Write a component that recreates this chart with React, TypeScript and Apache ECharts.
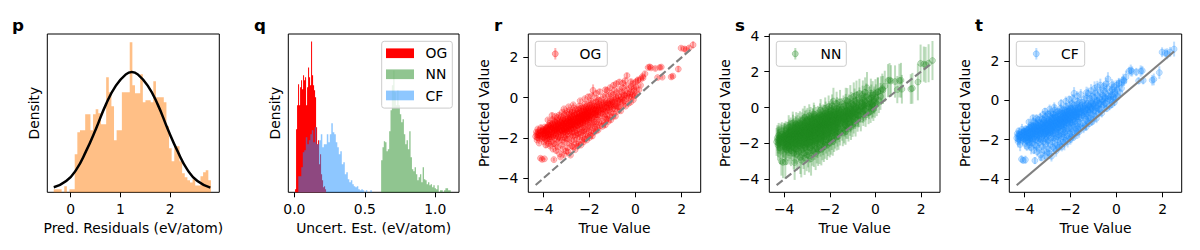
import React, { useEffect, useRef } from "react";
import * as echarts from "echarts";

// ---------- panel p : prediction residual histogram + normal fit ----------
const residualBinStart = -0.34;
const residualBinWidth = 0.0527;
const residualDensity = [
  0.016, 0.016, 0.016, 0, 0.032, 0, 0.016, 0.016, 0.203, 0.321,
  0.332, 0.332, 0.417, 0.417, 0.332, 0.417, 0.444, 0.422, 0.364, 0.364,
  0.615, 0.535, 0.46, 0.278, 0.332, 0.332, 0.535, 0.535, 0.535, 0.802,
  0.572, 0.529, 0.529, 0.631, 0.481, 0.492, 0.492, 0.481, 0.594, 0.508,
  0.508, 0.508, 0.481, 0.353, 0.235, 0.166, 0.246, 0.246, 0.166, 0.102,
  0.08, 0.064, 0.053, 0.07, 0.037, 0.037, 0.086, 0.107, 0.118, 0.064,
];
const normalFit = [
  [-0.34, 0.027], [-0.09, 0.06], [0.11, 0.12], [0.31, 0.22], [0.51, 0.34],
  [0.71, 0.47], [0.91, 0.57], [1.11, 0.63], [1.23, 0.643], [1.35, 0.63],
  [1.55, 0.57], [1.75, 0.47], [1.95, 0.34], [2.15, 0.22], [2.35, 0.12],
  [2.55, 0.06], [2.81, 0.025],
];

// ---------- panel q : uncertainty estimate histograms ----------
const ogBinStart = 0.005;
const ogBinWidth = 0.0071;
const ogDensity = [
  0.15, 3.15, 4.35, 5.4, 4.35, 5.25, 5.6, 5.15, 5.85, 5.6, 5.75, 4.35, 5.25, 6.25, 5.75, 5.35,
  7.55, 5.85, 5.35, 5.1, 4.75, 3.25, 2.4, 2.6, 1.4, 1.9, 0.9, 0.6, 0.25, 0.3, 0.15,
];
const nnBinStart = 0.6156;
const nnBinWidth = 0.0095;
const nnDensity = [
  1.6, 2.25, 2.55, 2.5, 2.05, 2.15, 3.05, 4.1, 5.35, 6.1, 5, 4.35, 5.1, 4.35, 3.9, 3.5, 3.65,
  2.9, 2.4, 2.6, 2.15, 3.05, 1.75, 1.15, 1.05, 1.25, 0.9, 0.6, 0.75, 0.9, 0.5, 1.25, 0.65, 0.6,
  0.4, 0.5, 0.35, 0.4, 0.25, 0.35, 0.2, 0.15, 0.35, 0, 0.1, 0.1, 0, 0.1, 0.2, 0.2, 0.1, 0.1, 0,
];
const cfBinStart = 0.028;
const cfBinWidth = 0.01064;
const cfDensity = [
  0.8, 0.8, 1.25, 2, 2.1, 2.75, 2.4, 2.6, 2.9, 3.1, 2.5, 3.25, 2.4, 2.4, 2.6, 2.9, 2.25, 2.4,
  2.4, 2.9, 2.5, 2.9, 3.45, 3, 2.9, 2.5, 2.25, 1.9, 2.05, 1.4, 1.5, 0.9, 1, 0.65, 0.5, 0.6,
  0.4, 0.3, 0.25, 0.3, 0.15, 0.1, 0.15, 0.1, 0, 0.1, 0, 0, 0.1,
];

// ---------- panels r, s, t : [true, predicted, uncOG, uncNN, uncCF] ----------
const outerSamples = [
  [-4.33,-1.92,.09,.78,.22],[-4.30,-1.70,.12,.71,.18],[-4.27,-2.10,.07,.85,.30],[-4.24,-1.55,.10,.69,.15],
  [-4.21,-1.85,.14,.74,.26],[-4.18,-2.25,.06,.92,.34],[-4.15,-1.62,.11,.72,.12],[-4.12,-3.00,.08,.80,.20],
  [-4.10,-1.48,.13,.66,.28],[-4.07,-2.05,.05,.76,.24],[-4.05,-3.06,.10,.88,.16],[-4.02,-1.76,.09,.70,.31],
  [-4.01,-1.98,.15,.83,.19],[-4.00,-1.58,.07,.73,.25],
  [-3.98,-1.64,.12,.75,.14],[-3.96,-2.20,.08,.81,.29],[-3.95,-3.03,.06,.95,.21],[-3.93,-1.45,.11,.68,.17],
  [-3.91,-1.90,.09,.77,.33],[-3.89,-2.35,.14,.86,.23],[-3.87,-1.72,.07,.72,.11],[-3.85,-2.02,.10,.79,.27],
  [-3.83,-1.52,.13,.70,.19],[-3.81,-2.15,.05,.84,.36],[-3.80,-1.10,.09,.67,.13],[-3.79,-1.80,.11,.74,.25],
  [-3.78,-1.38,.08,.71,.18],[-3.77,-2.28,.12,.90,.30],[-3.76,-1.95,.06,.76,.22],
  [-3.74,-1.60,.10,.73,.16],[-3.73,-2.05,.13,.82,.28],[-3.71,-1.25,.07,.69,.12],[-3.70,-2.40,.09,.87,.35],
  [-3.68,-1.85,.12,.75,.20],[-3.66,-1.42,.08,.70,.24],[-3.65,-2.18,.11,.80,.17],[-3.63,-1.70,.06,.74,.31],
  [-3.62,-0.88,.14,.65,.14],[-3.61,-1.08,.09,.68,.21],[-3.60,-1.95,.10,.78,.26],[-3.58,-2.55,.07,.91,.19],
  [-3.57,-1.52,.12,.72,.29],[-3.56,-1.30,.08,.70,.15],[-3.55,-2.28,.13,.85,.23],[-3.54,-3.07,.09,.97,.18],
  [-3.53,-1.78,.11,.76,.32],[-3.52,-2.00,.06,.79,.20],[-3.51,-1.15,.10,.67,.25],
  [-3.49,-1.62,.08,.73,.13],[-3.48,-2.30,.12,.83,.27],[-3.47,-0.92,.09,.66,.22],[-3.46,-1.88,.07,.77,.16],
  [-3.45,-1.40,.11,.71,.30],[-3.44,-2.62,.14,.89,.24],[-3.42,-1.12,.06,.69,.11],[-3.41,-2.05,.10,.80,.28],
  [-3.40,-1.55,.13,.72,.19],[-3.39,-1.75,.08,.75,.34],[-3.38,-0.98,.09,.67,.17],[-3.37,-2.45,.12,.86,.26],
  [-3.36,-1.30,.07,.70,.14],[-3.35,-1.95,.10,.78,.21],[-3.33,-2.15,.11,.82,.29],[-3.32,-1.48,.05,.73,.18],
  [-3.31,-0.86,.13,.65,.23],[-3.30,-1.68,.09,.74,.15],[-3.29,-2.78,.08,.93,.31],[-3.28,-1.22,.12,.69,.20],
  [-3.27,-2.00,.10,.79,.25],[-3.25,-2.94,.07,.96,.12],
  [-3.24,-1.45,.11,.72,.22],[-3.23,-0.95,.08,.68,.18],[-3.22,-1.85,.13,.76,.27],[-3.21,-2.35,.09,.84,.33],
  [-3.20,-1.15,.06,.70,.14],[-3.19,-1.62,.12,.74,.24],[-3.18,-0.72,.10,.66,.19],[-3.17,-2.10,.07,.81,.28],
  [-3.16,-1.38,.14,.71,.16],[-3.15,-2.55,.08,.88,.30],[-3.14,-1.75,.11,.75,.21],[-3.13,-1.02,.09,.69,.25],
  [-3.12,-1.95,.05,.78,.13],[-3.11,-1.28,.12,.72,.29],[-3.10,-2.82,.10,.94,.23],[-3.10,-0.55,.08,.64,.17],
  [-3.09,-1.55,.13,.73,.32],[-3.08,-0.85,.07,.67,.20],[-3.07,-2.22,.11,.83,.26],[-3.06,-1.68,.09,.75,.15],
  [-3.05,-1.18,.06,.70,.22],[-3.04,-2.00,.12,.80,.28],[-3.03,-1.42,.10,.71,.19],[-3.02,-0.78,.08,.66,.24],
  [-3.01,-2.65,.14,.90,.31],[-3.00,-1.60,.09,.74,.17],[-3.00,-1.88,.11,.77,.27],
  [-2.99,-1.25,.07,.71,.21],[-2.98,-0.68,.10,.66,.16],[-2.97,-2.05,.12,.80,.29],[-2.96,-1.52,.08,.73,.23],
  [-2.95,-2.48,.13,.86,.35],[-2.94,-0.98,.09,.69,.18],[-2.93,-1.78,.06,.76,.26],[-2.92,-1.35,.11,.72,.13],
  [-2.91,-2.70,.10,.92,.30],[-2.90,-1.10,.14,.70,.20],[-2.90,-0.45,.08,.63,.24],[-2.89,-1.65,.07,.74,.17],
  [-2.88,-0.80,.12,.67,.28],[-2.87,-2.25,.09,.83,.22],[-2.86,-1.45,.11,.72,.32],[-2.85,-1.92,.05,.78,.15],
  [-2.84,-0.62,.10,.65,.25],[-2.83,-1.20,.13,.70,.19],[-2.82,-2.85,.08,.95,.27],[-2.81,-1.58,.12,.73,.21],
  [-2.80,-1.02,.09,.68,.33],[-2.79,-2.12,.06,.81,.16],[-2.78,-1.38,.11,.72,.24],[-2.77,-0.88,.10,.67,.18],
  [-2.77,-1.80,.08,.77,.29],[-2.76,-2.40,.14,.85,.23],[-2.76,-1.15,.07,.70,.14],[-2.75,-1.70,.11,.75,.26],
  [-2.75,-0.70,.09,.66,.20],
  [-2.74,-1.30,.12,.71,.28],[-2.73,-0.72,.08,.66,.17],[-2.72,-1.90,.10,.78,.22],[-2.71,-1.05,.07,.69,.31],
  [-2.70,-2.45,.13,.87,.19],[-2.70,-0.35,.09,.62,.25],[-2.69,-1.55,.11,.74,.15],[-2.68,-0.50,.06,.64,.27],
  [-2.67,-1.22,.10,.70,.21],[-2.66,-2.10,.12,.82,.34],[-2.65,-0.88,.08,.67,.18],[-2.64,-1.72,.14,.76,.24],
  [-2.63,-1.40,.09,.72,.13],[-2.62,-2.58,.07,.91,.29],[-2.61,-0.62,.11,.65,.20],[-2.60,-1.12,.10,.70,.26],
  [-2.59,-1.85,.13,.77,.16],[-2.58,-0.95,.08,.68,.23],[-2.57,-2.28,.12,.84,.30],[-2.56,-1.48,.06,.73,.19],
  [-2.55,-0.78,.09,.66,.25],[-2.54,-1.62,.11,.75,.14],[-2.54,-2.02,.10,.80,.28],[-2.53,-1.18,.07,.70,.22],
  [-2.52,-0.55,.13,.64,.17],[-2.52,-1.38,.08,.72,.32],[-2.51,-2.40,.12,.86,.21],[-2.50,-0.98,.09,.68,.18],
  [-2.50,-1.75,.11,.76,.27],
  [-2.49,-1.20,.10,.70,.23],[-2.48,-0.62,.07,.65,.16],[-2.47,-1.80,.13,.77,.30],[-2.46,-0.95,.09,.68,.20],
  [-2.45,-2.30,.11,.85,.26],[-2.44,-1.42,.08,.72,.13],[-2.43,-0.40,.12,.63,.24],[-2.42,-1.08,.06,.69,.19],
  [-2.41,-1.95,.10,.79,.33],[-2.40,-0.78,.14,.66,.17],[-2.40,-0.15,.09,.62,.22],[-2.39,-1.60,.08,.74,.28],
  [-2.38,-1.30,.11,.71,.15],[-2.37,-2.35,.07,.88,.25],[-2.36,-0.52,.12,.64,.21],[-2.35,-1.00,.10,.69,.18],
  [-2.34,-1.72,.09,.76,.31],[-2.33,-0.85,.13,.67,.23],[-2.32,-2.12,.08,.82,.16],[-2.31,-1.35,.11,.72,.27],
  [-2.30,-0.68,.06,.65,.20],[-2.30,-1.50,.10,.73,.24],[-2.29,-1.88,.12,.78,.14],[-2.28,-1.12,.09,.70,.29],
  [-2.28,-0.45,.07,.63,.19],[-2.27,-1.25,.11,.71,.22],[-2.26,-2.20,.13,.84,.35],[-2.26,-0.90,.08,.68,.17],
  [-2.25,-1.65,.10,.75,.26],
  [-2.24,-1.05,.09,.69,.21],[-2.23,-0.50,.12,.64,.15],[-2.22,-1.62,.07,.75,.28],[-2.21,-0.82,.10,.67,.23],
  [-2.20,-2.05,.13,.81,.18],[-2.20,-0.05,.08,.61,.25],[-2.19,-1.28,.11,.71,.32],[-2.18,-0.30,.09,.63,.19],
  [-2.17,-0.95,.06,.68,.24],[-2.16,-1.80,.12,.77,.14],[-2.15,-0.65,.10,.66,.27],[-2.14,-1.45,.08,.73,.20],
  [-2.13,-1.15,.14,.70,.22],[-2.12,-2.10,.09,.83,.30],[-2.11,-0.42,.11,.64,.16],[-2.10,-0.88,.07,.68,.25],
  [-2.09,-1.55,.10,.74,.18],[-2.08,-0.72,.12,.66,.29],[-2.07,-1.92,.08,.79,.21],[-2.06,-1.22,.11,.71,.13],
  [-2.05,-0.55,.09,.65,.26],[-2.05,0.05,.13,.62,.20],[-2.04,-1.38,.06,.72,.23],[-2.03,-1.70,.10,.76,.31],
  [-2.03,-1.00,.12,.69,.17],[-2.02,-0.28,.08,.63,.24],[-2.01,-1.12,.11,.70,.19],[-2.00,-1.98,.09,.80,.28],
  [-1.99,-0.90,.10,.68,.22],[-1.98,-0.38,.07,.64,.15],[-1.97,-1.45,.12,.73,.27],[-1.96,-0.68,.09,.66,.20],
  [-1.95,-1.85,.13,.78,.33],[-1.94,-1.12,.08,.70,.18],[-1.93,-0.15,.11,.62,.24],[-1.92,-0.80,.10,.67,.21],
  [-1.91,-1.62,.06,.75,.29],[-1.90,-0.52,.12,.65,.16],[-1.90,0.10,.09,.63,.23],[-1.89,-1.28,.11,.71,.19],
  [-1.88,-1.00,.08,.69,.26],[-1.87,-1.90,.14,.79,.14],[-1.86,-0.25,.10,.63,.22],[-1.85,-0.72,.07,.66,.28],
  [-1.84,0.36,.30,.74,.32],[-1.83,-1.38,.09,.72,.20],[-1.82,-0.58,.12,.65,.17],[-1.81,-1.72,.10,.76,.25],
  [-1.80,-1.05,.08,.69,.21],[-1.79,-0.40,.11,.64,.30],[-1.78,-1.20,.13,.71,.18],[-1.77,-1.55,.09,.74,.24],
  [-1.76,-0.85,.07,.67,.19],
  [-1.74,-0.75,.10,.67,.23],[-1.73,-0.20,.12,.63,.16],[-1.72,-1.30,.08,.71,.27],[-1.71,-0.55,.11,.65,.21],
  [-1.70,-1.65,.09,.75,.32],[-1.70,0.22,.14,.66,.25],[-1.69,-0.95,.07,.68,.18],[-1.68,-0.05,.10,.62,.22],
  [-1.67,-0.68,.12,.66,.14],[-1.66,-1.45,.08,.73,.28],[-1.65,-0.38,.11,.64,.20],[-1.64,-1.10,.09,.70,.24],
  [-1.63,-0.85,.13,.67,.17],[-1.62,-1.60,.06,.76,.30],[-1.61,-0.12,.10,.63,.22],[-1.60,-0.60,.12,.65,.19],
  [-1.58,-1.22,.08,.71,.26],[-1.57,-0.42,.11,.64,.15],[-1.55,-1.40,.09,.72,.23],[-1.55,0.30,.13,.68,.28],
  [-1.53,-0.90,.10,.68,.18],[-1.51,-0.25,.07,.63,.21],
  [-1.49,-0.62,.11,.66,.24],[-1.48,-0.10,.09,.63,.17],[-1.46,-1.15,.12,.70,.29],[-1.45,-0.45,.08,.64,.20],
  [-1.43,-1.42,.10,.74,.25],[-1.42,-0.80,.13,.67,.16],[-1.40,0.05,.07,.62,.22],[-1.39,-0.55,.11,.65,.31],
  [-1.37,-1.28,.09,.72,.19],[-1.36,-0.28,.12,.63,.23],[-1.34,-0.95,.08,.68,.27],[-1.33,-0.70,.10,.66,.14],
  [-1.31,-1.35,.14,.73,.21],[-1.30,0.12,.09,.64,.26],[-1.30,0.40,.11,.70,.30],[-1.29,-0.38,.07,.64,.18],
  [-1.28,-1.05,.12,.69,.24],[-1.26,-0.18,.10,.63,.20],[-1.25,-0.85,.08,.67,.28],
  [-1.24,-0.48,.11,.65,.17],[-1.23,0.36,.09,.72,.29],[-1.22,-1.05,.13,.70,.22],[-1.20,-0.25,.08,.64,.25],
  [-1.18,-1.18,.10,.72,.18],[-1.17,-0.62,.12,.66,.31],[-1.15,0.10,.07,.63,.20],[-1.13,-0.35,.11,.64,.24],
  [-1.12,-0.90,.09,.68,.16],[-1.10,-0.08,.14,.63,.27],[-1.10,0.50,.10,.75,.33],[-1.08,-0.72,.08,.67,.21],
  [-1.07,-1.10,.12,.71,.19],[-1.05,0.22,.09,.65,.25],[-1.04,-0.45,.11,.65,.18],[-1.02,-0.20,.07,.63,.23],
  [-1.00,-0.95,.10,.69,.28],
  [-0.99,-0.30,.12,.64,.20],[-0.97,0.15,.08,.64,.26],[-0.95,-0.78,.11,.67,.17],[-0.95,0.62,.13,.78,.35],
  [-0.93,-0.10,.09,.63,.22],[-0.91,0.38,.10,.68,.29],[-0.89,-0.55,.07,.65,.19],[-0.87,-0.92,.12,.70,.24],
  [-0.85,0.02,.08,.63,.16],[-0.83,-0.40,.11,.64,.21],[-0.83,0.70,.14,.80,.30],[-0.81,0.25,.09,.66,.27],
  [-0.78,-0.68,.10,.67,.18],[-0.76,-0.15,.12,.63,.23],
  [-0.74,0.10,.09,.65,.25],[-0.72,-0.45,.11,.64,.19],[-0.70,0.42,.08,.70,.28],[-0.70,0.78,.13,.82,.33],
  [-0.67,-0.20,.10,.63,.17],[-0.64,-0.65,.12,.68,.22],[-0.61,0.28,.07,.67,.26],[-0.58,-0.05,.11,.64,.20],
  [-0.56,0.50,.09,.72,.31],[-0.55,0.72,.14,.79,.24],[-0.53,-0.38,.10,.65,.18],[-0.51,0.15,.08,.66,.23],
  [-0.49,-0.15,.11,.64,.21],[-0.46,0.35,.09,.69,.27],[-0.45,0.85,.12,.83,.30],[-0.43,-0.42,.07,.66,.16],
  [-0.40,0.60,.10,.74,.25],[-0.37,1.10,.13,.88,.34],[-0.35,0.08,.08,.65,.19],[-0.30,-0.28,.11,.65,.22],
  [-0.27,0.45,.09,.70,.28],
  [-0.24,0.20,.10,.67,.24],[-0.21,-0.22,.08,.64,.17],[-0.20,0.80,.12,.81,.29],[-0.18,0.55,.09,.73,.26],
  [-0.15,0.05,.11,.66,.20],[-0.12,0.70,.13,.77,.31],[-0.09,-0.10,.07,.65,.18],[-0.05,0.35,.10,.70,.23],
  [-0.02,0.10,.09,.67,.21],[0.00,0.78,.12,.80,.27],
  [0.02,0.55,.10,.74,.25],[0.06,0.20,.08,.68,.19],[0.10,0.85,.11,.82,.30],[0.11,0.89,.09,.79,.22],
  [0.15,0.40,.12,.71,.27],[0.22,0.62,.08,.75,.20],
  [0.24,0.94,.10,.80,.28],[0.30,1.05,.12,.84,.31],[0.33,0.98,.09,.78,.24],[0.41,1.19,.11,.86,.33],
  [0.55,1.50,.10,.92,.22],[0.62,1.53,.13,.95,.30],[0.68,1.48,.08,.88,.26],[0.86,1.45,.11,.90,.21],
  [0.96,1.00,.09,.76,.18],[1.05,1.50,.12,.94,.29],[1.12,1.52,.10,.97,.24],[1.16,1.02,.08,.80,.20],
  [1.55,1.03,.11,.83,.27],[1.62,1.07,.09,.86,.30],[1.86,1.42,.15,1.02,.32],[1.98,2.46,.10,1.05,.25],
  [2.12,2.42,.12,.98,.22],[2.20,2.38,.09,1.00,.28],[2.33,2.47,.11,1.06,.26],[2.50,2.62,.17,1.09,.38],
];
// dense central band of the cloud
const coreSamples = [
  [-4.28,-1.82,.10,.74,.20],[-4.26,-1.98,.08,.79,.24],[-4.23,-1.72,.12,.71,.17],[-4.20,-2.02,.09,.82,.27],
  [-4.17,-1.78,.11,.73,.21],[-4.14,-1.90,.07,.77,.18],[-4.11,-1.68,.13,.70,.25],[-4.08,-1.84,.10,.75,.22],
  [-4.04,-1.95,.08,.80,.19],[-4.03,-1.66,.12,.70,.26],
  [-3.99,-1.80,.09,.74,.23],[-3.97,-1.58,.11,.69,.16],[-3.94,-1.75,.07,.73,.28],[-3.92,-2.05,.10,.81,.21],
  [-3.90,-1.62,.13,.71,.18],[-3.88,-1.85,.08,.76,.25],[-3.86,-1.50,.11,.69,.20],[-3.84,-1.70,.09,.73,.27],
  [-3.82,-1.92,.12,.78,.15],[-3.80,-1.45,.07,.68,.22],
  [-3.78,-1.65,.10,.72,.24],[-3.76,-1.82,.12,.75,.19],[-3.74,-1.40,.08,.68,.26],[-3.72,-1.58,.11,.71,.17],
  [-3.70,-1.75,.09,.74,.23],[-3.68,-1.35,.13,.67,.28],[-3.66,-1.95,.07,.79,.20],[-3.64,-1.52,.10,.70,.25],
  [-3.62,-1.68,.12,.73,.16],[-3.60,-1.30,.08,.67,.22],
  [-3.58,-1.48,.11,.70,.27],[-3.56,-1.85,.09,.76,.19],[-3.54,-1.62,.12,.72,.24],[-3.52,-1.38,.07,.68,.21],
  [-3.50,-1.55,.10,.71,.18],[-3.48,-1.20,.13,.66,.26],[-3.46,-1.72,.08,.74,.23],[-3.44,-1.45,.11,.70,.15],
  [-3.42,-1.62,.09,.72,.28],[-3.40,-1.28,.12,.67,.20],
  [-3.38,-1.50,.10,.70,.25],[-3.36,-1.82,.08,.76,.22],[-3.34,-1.35,.11,.68,.17],[-3.32,-1.58,.09,.72,.27],
  [-3.30,-1.15,.13,.66,.21],[-3.28,-1.42,.07,.69,.19],[-3.26,-1.70,.10,.74,.24],[-3.24,-1.25,.12,.67,.26],
  [-3.22,-1.52,.08,.71,.18],[-3.20,-1.35,.11,.69,.23],
  [-3.18,-1.62,.09,.73,.20],[-3.16,-1.10,.12,.66,.27],[-3.14,-1.45,.10,.70,.16],[-3.12,-1.72,.08,.75,.25],
  [-3.10,-1.25,.11,.68,.22],[-3.08,-1.40,.09,.70,.19],[-3.06,-1.05,.13,.65,.28],[-3.04,-1.58,.07,.72,.21],
  [-3.02,-1.30,.10,.68,.24],[-3.00,-1.15,.12,.67,.18],
  [-2.98,-1.45,.08,.71,.26],[-2.96,-1.68,.11,.74,.20],[-2.94,-1.22,.09,.68,.23],[-2.92,-1.02,.12,.66,.17],
  [-2.90,-1.38,.10,.70,.27],[-2.88,-1.55,.08,.72,.22],[-2.86,-1.12,.11,.67,.19],[-2.84,-1.30,.09,.69,.25],
  [-2.82,-0.95,.13,.65,.21],[-2.80,-1.48,.07,.71,.28],
  [-2.78,-1.18,.10,.68,.18],[-2.76,-1.35,.12,.70,.24],[-2.74,-0.92,.08,.65,.20],[-2.72,-1.25,.11,.68,.26],
  [-2.70,-1.52,.09,.72,.16],[-2.68,-1.08,.12,.66,.23],[-2.66,-1.32,.10,.69,.21],[-2.64,-0.85,.08,.64,.27],
  [-2.62,-1.18,.11,.67,.19],[-2.60,-1.42,.09,.71,.25],
  [-2.58,-1.02,.13,.66,.22],[-2.56,-1.25,.07,.68,.18],[-2.54,-0.80,.10,.64,.26],[-2.52,-1.10,.12,.67,.20],
  [-2.50,-1.35,.08,.70,.24],[-2.48,-0.95,.11,.65,.17],[-2.46,-1.18,.09,.68,.28],[-2.44,-0.72,.12,.63,.21],
  [-2.42,-1.02,.10,.66,.23],[-2.40,-1.28,.08,.69,.19],
  [-2.38,-0.88,.11,.65,.25],[-2.36,-1.10,.09,.67,.22],[-2.34,-0.65,.13,.63,.18],[-2.32,-0.95,.07,.66,.26],
  [-2.30,-1.20,.10,.68,.20],[-2.28,-0.80,.12,.64,.24],[-2.26,-1.02,.08,.66,.27],[-2.24,-0.62,.11,.63,.17],
  [-2.22,-0.88,.09,.65,.23],[-2.20,-1.12,.12,.68,.21],
  [-2.18,-0.75,.10,.64,.19],[-2.16,-0.98,.08,.66,.25],[-2.14,-0.58,.11,.63,.22],[-2.12,-0.82,.09,.65,.28],
  [-2.10,-1.05,.13,.67,.18],[-2.08,-0.68,.07,.64,.24],[-2.06,-0.90,.10,.66,.20],[-2.04,-0.52,.12,.63,.26],
  [-2.02,-0.78,.08,.65,.21],[-2.00,-0.98,.11,.67,.23],
  [-1.97,-0.62,.09,.64,.19],[-1.94,-0.85,.12,.66,.27],[-1.91,-0.45,.10,.63,.22],[-1.88,-0.70,.08,.65,.18],
  [-1.85,-0.92,.11,.67,.25],[-1.82,-0.55,.09,.64,.20],[-1.79,-0.78,.13,.66,.24],[-1.76,-0.40,.07,.63,.21],
  [-1.73,-0.62,.10,.65,.27],[-1.70,-0.85,.12,.67,.17],
  [-1.66,-0.48,.08,.64,.23],[-1.62,-0.70,.11,.66,.20],[-1.58,-0.32,.09,.63,.26],[-1.54,-0.55,.12,.65,.19],
  [-1.50,-0.75,.10,.67,.22],[-1.45,-0.38,.08,.64,.25],[-1.40,-0.60,.11,.66,.18],[-1.35,-0.22,.09,.63,.24],
  [-1.30,-0.48,.13,.65,.21],[-1.25,-0.65,.07,.66,.27],
  [-1.20,-0.30,.10,.64,.20],[-1.15,-0.50,.12,.65,.23],[-1.10,-0.15,.08,.63,.19],[-1.05,-0.38,.11,.64,.26],
  [-1.00,-0.55,.09,.66,.22],[-0.95,-0.20,.12,.64,.18],[-0.90,-0.40,.10,.65,.25],[-0.85,-0.05,.08,.64,.21],
  [-0.80,-0.28,.11,.65,.24],[-0.75,-0.45,.09,.66,.20],
  [-0.68,-0.10,.12,.65,.23],[-0.62,0.05,.10,.66,.27],[-0.55,-0.22,.08,.65,.19],[-0.48,0.12,.11,.67,.22],
  [-0.42,-0.05,.09,.66,.25],[-0.35,0.22,.12,.68,.21],[-0.28,0.02,.10,.67,.18],[-0.20,0.30,.08,.70,.26],
  [-0.12,0.15,.11,.69,.23],[-0.05,0.45,.09,.72,.24],
];
const samples = [...outerSamples, ...coreSamples];
const parityLine = [-4.33, 2.5];

// ---------- ticks ----------
const residualTicks = [0, 1, 2];
const uncertTicks = [0, 0.5, 1];
const trueTicks = [-4, -2, 0, 2];
const predTicksR = [-4, -2, 0, 2];
const predTicksS = [-4, -2, 0, 2, 4];
const predTicksT = [-4, -2, 0, 2];

const FONT = "DejaVu Sans";
const FS = 13.9;

function minusFmt(v: number) {
  return String(v).replace("-", "\u2212");
}

function histPolygon(axis: number, start: number, width: number, heights: number[], color: string) {
  return {
    type: "custom",
    xAxisIndex: axis,
    yAxisIndex: axis,
    silent: true,
    data: [[start, 0]],
    encode: { x: 0, y: 1 },
    renderItem: (_params: any, api: any) => {
      const pts: number[][] = [];
      pts.push(api.coord([start, 0]));
      heights.forEach((h, i) => {
        const x0 = start + i * width;
        const x1 = x0 + width;
        pts.push(api.coord([x0, h]));
        pts.push(api.coord([x1, h]));
      });
      pts.push(api.coord([start + heights.length * width, 0]));
      return { type: "polygon", shape: { points: pts }, style: { fill: color } };
    },
  };
}

function errorBars(axis: number, col: number, color: string) {
  return {
    type: "custom",
    xAxisIndex: axis,
    yAxisIndex: axis,
    silent: true,
    data: samples.map((s) => [s[0], s[1], s[col]]),
    encode: { x: 0, y: 1 },
    renderItem: (_params: any, api: any) => {
      const x = api.value(0);
      const y = api.value(1);
      const e = api.value(2);
      const a = api.coord([x, y - e]);
      const b = api.coord([x, y + e]);
      return {
        type: "line",
        shape: { x1: a[0], y1: a[1], x2: b[0], y2: b[1] },
        style: { stroke: color, lineWidth: 2 },
      };
    },
  };
}

function points(axis: number, color: string) {
  return {
    type: "scatter",
    xAxisIndex: axis,
    yAxisIndex: axis,
    silent: true,
    symbolSize: 6,
    itemStyle: { color, borderColor: color, borderWidth: 1 },
    data: samples.map((s) => [s[0], s[1]]),
  };
}

function parity(axis: number, dashed: boolean) {
  return {
    type: "line",
    xAxisIndex: axis,
    yAxisIndex: axis,
    silent: true,
    symbol: "none",
    lineStyle: { color: "#808080", width: 2.1, type: dashed ? [7.7, 3.3] : "solid" },
    data: [
      [parityLine[0], parityLine[0]],
      [parityLine[1], parityLine[1]],
    ],
  };
}

const labelStyle = { color: "#000", fontSize: FS, fontFamily: FONT };

function xAxisDef(idx: number, min: number, max: number, ticks: number[] | null, name: string, fmt: (v: number) => string) {
  return {
    type: "value",
    gridIndex: idx,
    position: "bottom",
    min,
    max,
    name,
    nameLocation: "middle",
    nameGap: 28,
    nameTextStyle: labelStyle,
    axisLine: { show: false, onZero: false },
    splitLine: { show: false },
    axisTick: ticks
      ? { show: true, length: 5, inside: false, lineStyle: { color: "#000", width: 1 }, customValues: ticks }
      : { show: false },
    axisLabel: ticks
      ? { show: true, margin: 10, ...labelStyle, customValues: ticks, formatter: fmt }
      : { show: false },
  };
}

function yAxisDef(idx: number, min: number, max: number, ticks: number[] | null, name: string, gap: number) {
  return {
    type: "value",
    gridIndex: idx,
    position: "left",
    min,
    max,
    name,
    nameLocation: "middle",
    nameGap: gap,
    nameTextStyle: labelStyle,
    axisLine: { show: false, onZero: false },
    splitLine: { show: false },
    axisTick: ticks
      ? { show: true, length: 5, inside: false, lineStyle: { color: "#000", width: 1 }, customValues: ticks }
      : { show: false },
    axisLabel: ticks
      ? { show: true, margin: 10, ...labelStyle, customValues: ticks, formatter: minusFmt }
      : { show: false },
  };
}

function panelTitle(text: string, x: number) {
  return {
    type: "text",
    x,
    y: 25,
    z: 100,
    style: { text, fill: "#000", fontSize: 16.7, fontWeight: "bold", fontFamily: FONT, align: "left", verticalAlign: "middle" },
  };
}

function legendBox(x: number, y: number, w: number, h: number) {
  return {
    type: "rect",
    z: 100,
    shape: { x, y, width: w, height: h, r: 2.5 },
    style: { fill: "rgba(255,255,255,0.8)", stroke: "#cccccc", lineWidth: 1 },
  };
}

function legendText(text: string, x: number, y: number) {
  return {
    type: "text",
    x,
    y,
    z: 101,
    style: { text, fill: "#000", fontSize: FS, fontFamily: FONT, align: "left", verticalAlign: "middle" },
  };
}

function scatterLegend(x: number, w: number, markerX: number, textX: number, text: string, color: string) {
  return [
    legendBox(x, 41.3, w, 25),
    { type: "line", z: 101, shape: { x1: markerX, y1: 48, x2: markerX, y2: 59.5 }, style: { stroke: color, lineWidth: 2 } },
    { type: "circle", z: 101, shape: { cx: markerX, cy: 53.8, r: 3 }, style: { fill: color, stroke: color, lineWidth: 1 } },
    legendText(text, textX, 53.8),
  ];
}

export default function App() {
  const ref = useRef<HTMLDivElement>(null);

  useEffect(() => {
    if (!ref.current) return;
    const chart = echarts.init(ref.current, undefined, { renderer: "svg" });

    const red = "rgba(255,0,0,0.3)";
    const green = "rgba(34,139,34,0.3)";
    const blue = "rgba(30,144,255,0.3)";

    const option: any = {
      animation: false,
      backgroundColor: "#ffffff",
      grid: [
        { left: 47.3, top: 34, width: 172, height: 158.3 },
        { left: 288.3, top: 34, width: 170.7, height: 158.3 },
        { left: 528.3, top: 34, width: 172.4, height: 158.3 },
        { left: 769.3, top: 34, width: 170.7, height: 158.3 },
        { left: 1009.3, top: 34, width: 172.4, height: 158.3 },
      ].map((g) => ({ ...g, show: true, borderColor: "#000", borderWidth: 1, backgroundColor: "transparent", containLabel: false })),
      xAxis: [
        xAxisDef(0, -0.47, 2.99, residualTicks, "Pred. Residuals (eV/atom)", (v) => minusFmt(v)),
        xAxisDef(1, -0.043, 1.168, uncertTicks, "Uncert. Est. (eV/atom)", (v) => v.toFixed(1)),
        xAxisDef(2, -4.65, 2.83, trueTicks, "True Value", minusFmt),
        xAxisDef(3, -4.65, 2.83, trueTicks, "True Value", minusFmt),
        xAxisDef(4, -4.65, 2.83, trueTicks, "True Value", minusFmt),
      ],
      yAxis: [
        yAxisDef(0, 0, 0.846, null, "Density", 6),
        yAxisDef(1, 0, 7.92, null, "Density", 6),
        yAxisDef(2, -4.69, 3.16, predTicksR, "Predicted Value", 37),
        yAxisDef(3, -4.73, 4.1, predTicksS, "Predicted Value", 37),
        yAxisDef(4, -4.69, 3.39, predTicksT, "Predicted Value", 37),
      ],
      series: [
        histPolygon(0, residualBinStart, residualBinWidth, residualDensity, "rgba(255,127,14,0.5)"),
        {
          type: "line",
          xAxisIndex: 0,
          yAxisIndex: 0,
          silent: true,
          symbol: "none",
          smooth: 0.5,
          lineStyle: { color: "#000", width: 2.5 },
          data: normalFit,
        },
        histPolygon(1, ogBinStart, ogBinWidth, ogDensity, "rgb(255,0,0)"),
        histPolygon(1, nnBinStart, nnBinWidth, nnDensity, "rgba(34,139,34,0.5)"),
        histPolygon(1, cfBinStart, cfBinWidth, cfDensity, "rgba(30,144,255,0.5)"),
        errorBars(2, 2, red),
        points(2, red),
        parity(2, true),
        errorBars(3, 3, green),
        points(3, green),
        parity(3, true),
        errorBars(4, 4, blue),
        points(4, blue),
        parity(4, false),
      ],
      graphic: [
        panelTitle("p", 12),
        panelTitle("q", 254),
        panelTitle("r", 494),
        panelTitle("s", 735),
        panelTitle("t", 975),
        legendBox(381.7, 41.3, 70.6, 66.8),
        { type: "rect", z: 101, shape: { x: 386, y: 48.4, width: 28, height: 9.7 }, style: { fill: "rgb(255,0,0)" } },
        { type: "rect", z: 101, shape: { x: 386, y: 69.4, width: 28, height: 9.7 }, style: { fill: "rgba(34,139,34,0.5)" } },
        { type: "rect", z: 101, shape: { x: 386, y: 90.6, width: 28, height: 9.7 }, style: { fill: "rgba(30,144,255,0.5)" } },
        legendText("OG", 425.5, 53.3),
        legendText("NN", 425.5, 74.3),
        legendText("CF", 425.5, 95.5),
        ...scatterLegend(535.3, 72, 555.3, 579.5, "OG", red),
        ...scatterLegend(776.3, 70, 795.3, 820.5, "NN", green),
        ...scatterLegend(1016.3, 68.4, 1036.3, 1061, "CF", blue),
      ],
    };

    chart.setOption(option);
    return () => chart.dispose();
  }, []);

  return (
    <div
      ref={ref}
      style={{ position: "fixed", left: 0, top: 0, width: 1200, height: 250, background: "#fff" }}
    />
  );
}
